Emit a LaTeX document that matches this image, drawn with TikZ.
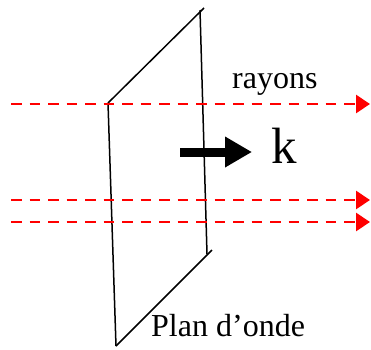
\documentclass[tikz,border=0pt]{standalone}
\usepackage{fontspec}
\setmainfont{Liberation Serif}
\usetikzlibrary{arrows.meta}
\begin{document}
\begin{tikzpicture}[x=1pt,y=-1pt,
  ray/.style={draw=red,line width=2.8pt,dash pattern=on 10.5pt off 8pt,
    -{Triangle[length=14pt,width=18pt,fill=red]}},
  edge/.style={draw=black,line width=1.5pt},
  lbl/.style={inner sep=0pt,anchor=base west,font=\fontsize{32}{38}\selectfont}]
\useasboundingbox (0,0) rectangle (371,349);
% plane
\coordinate (A) at (108,103);
\coordinate (B) at (204,8);
\coordinate (Bv) at (200,10);
\coordinate (C) at (207,254);
\coordinate (Cd) at (212,250);
\coordinate (D) at (116,346);
\draw[edge] (A) -- (B);
\draw[edge] (Bv) -- (C);
\draw[edge] (A) -- (D);
\draw[edge] (D) -- (Cd);
% rays
\coordinate (r1s) at (11,104); \coordinate (r1e) at (370,104);
\coordinate (r2s) at (11,200); \coordinate (r2e) at (370,200);
\coordinate (r3s) at (11,222); \coordinate (r3e) at (370,222);
\draw[ray] (r1s) -- (r1e);
\draw[ray] (r2s) -- (r2e);
\draw[ray] (r3s) -- (r3e);
% k arrow
\coordinate (ks) at (180,152); \coordinate (ke) at (252,152);
\draw[line width=9pt,-{Triangle[length=27pt,width=29pt]}] (ks) -- (ke);
\node[lbl] (rayons) at (232,88) {rayons};
\node[lbl,font=\fontsize{51}{60}\selectfont] (k) at (271,163) {k};
\node[lbl] (plan) at (151,336) {Plan d’onde};
\end{tikzpicture}
\end{document}
